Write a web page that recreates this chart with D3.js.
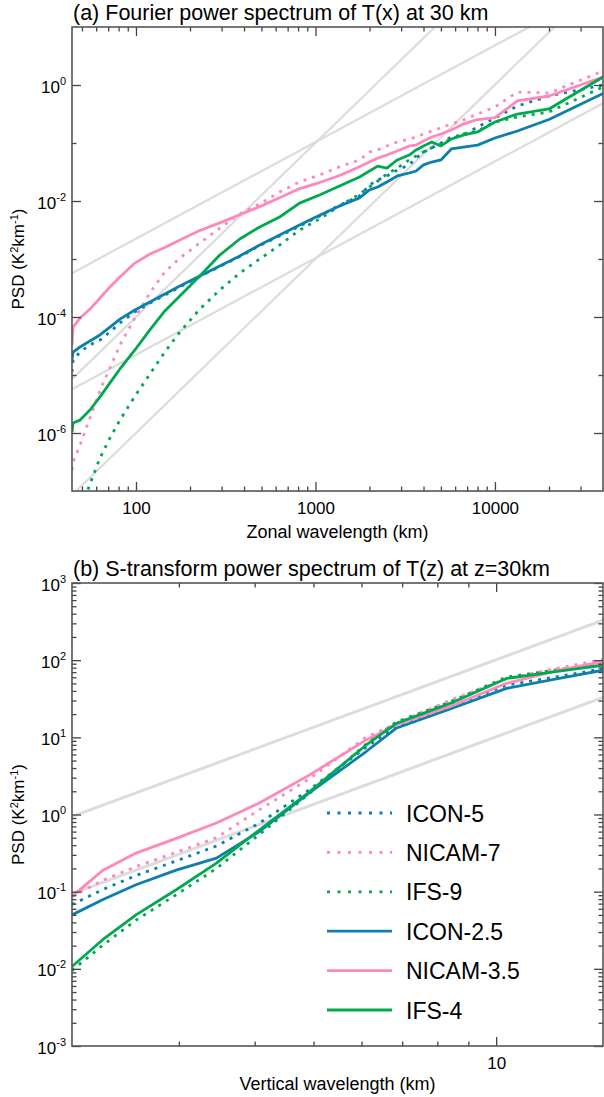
<!DOCTYPE html>
<html>
<head>
<meta charset="utf-8">
<script src="https://cdn.jsdelivr.net/npm/d3@7"></script>
<style>
  body { margin: 0; background: #fff; }
  svg { display: block; font-family: "Liberation Sans", Arial, Helvetica, sans-serif; }
</style>
</head>
<body>
<svg id="chart" width="604" height="1097"></svg>
<script>
// ---- panel (a): Fourier spectrum, zonal wavelength (km) ----
var a_wl = [44, 44.6, 48.8, 55.4, 63, 71.6, 81.4, 98.6, 119.5, 144.8, 175.5, 226.7, 292.9, 378.5,
  488.9, 631.7, 815.9, 1054, 1362, 1760, 2000, 2222, 2500, 2857, 3333, 3636, 4000, 4444, 5000,
  5714, 6667, 8000, 10000, 13333, 20000, 40000];
var a_icon5 = [1.13e-5, 1.82e-5, 2.49e-5, 3.3e-5, 4.0e-5, 5.5e-5, 7.9e-5, 1.22e-4, 1.74e-4, 2.39e-4,
  3.29e-4, 5.0e-4, 7.4e-4, 1.1e-3, 1.7e-3, 2.5e-3, 3.7e-3, 5.5e-3, 8.5e-3, 1.22e-2, 1.89e-2, 2.3e-2,
  2.7e-2, 3.42e-2, 4.2e-2, 5.5e-2, 7.0e-2, 8.2e-2, 0.1, 0.127, 0.137, 0.189, 0.27, 0.434, 0.646, 1.0];
var a_nicam7 = [2.3e-7, 3.16e-7, 6.2e-7, 1.82e-6, 5.5e-6, 1.32e-5, 3.3e-5, 9.6e-5, 2.6e-4, 6.0e-4,
  1.04e-3, 1.89e-3, 3.4e-3, 6.0e-3, 8.9e-3, 1.43e-2, 2.13e-2, 2.8e-2, 3.9e-2, 5.1e-2, 7.0e-2, 7.6e-2,
  8.9e-2, 0.104, 0.117, 0.127, 0.143, 0.161, 0.182, 0.213, 0.249, 0.316, 0.418, 0.757, 0.728, 1.74];
var a_ifs9 = [2.0e-8, 2.1e-8, 4.5e-8, 1.32e-7, 3.7e-7, 8.2e-7, 1.67e-6, 4.3e-6, 1.04e-5, 2.49e-5,
  5.5e-5, 1.37e-4, 2.92e-4, 5.7e-4, 1.0e-3, 1.74e-3, 3.16e-3, 4.9e-3, 8.2e-3, 1.32e-2, 1.74e-2, 2.21e-2,
  2.92e-2, 3.7e-2, 5.1e-2, 5.97e-2, 7.0e-2, 8.2e-2, 9.6e-2, 0.117, 0.143, 0.161, 0.23, 0.281, 0.342, 0.925];
var a_icon25 = [1.82e-5, 2.49e-5, 3.04e-5, 3.86e-5, 4.9e-5, 6.7e-5, 9.2e-5, 1.32e-4, 1.82e-4, 2.49e-4,
  3.42e-4, 5.1e-4, 7.6e-4, 1.13e-3, 1.74e-3, 2.59e-3, 3.86e-3, 5.7e-3, 8.2e-3, 1.13e-2, 1.55e-2, 1.74e-2,
  2.13e-2, 2.7e-2, 3.04e-2, 3.29e-2, 4.2e-2, 4.7e-2, 5.1e-2, 7.9e-2, 8.5e-2, 9.2e-2, 0.122, 0.161, 0.254, 0.713];
var a_nicam35 = [3.3e-5, 6.7e-5, 9.6e-5, 1.37e-4, 2.13e-4, 3.29e-4, 4.9e-4, 8.5e-4, 1.22e-3, 1.58e-3,
  2.13e-3, 3.1e-3, 4.2e-3, 5.8e-3, 8.0e-3, 1.14e-2, 1.64e-2, 2.08e-2, 2.75e-2, 3.9e-2, 4.7e-2, 5.5e-2,
  6.2e-2, 7.3e-2, 8.9e-2, 9.2e-2, 0.108, 0.127, 0.143, 0.168, 0.213, 0.254, 0.275, 0.53, 0.646, 1.37];
var a_ifs4 = [1.04e-6, 1.49e-6, 1.67e-6, 2.49e-6, 4.2e-6, 7.3e-6, 1.27e-5, 2.7e-5, 6.0e-5, 1.27e-4,
  2.3e-4, 5.1e-4, 1.17e-3, 2.21e-3, 3.56e-3, 5.3e-3, 9.2e-3, 1.27e-2, 1.82e-2, 2.59e-2, 3.29e-2, 4.0e-2,
  3.7e-2, 5.1e-2, 6.2e-2, 7.6e-2, 8.9e-2, 0.104, 8.9e-2, 0.117, 0.137, 0.155, 0.23, 0.316, 0.386, 1.37];
// grey reference slopes (end points at 44 km and 40000 km)
var a_refWl = [44, 40000];
var a_ref53hi = [5.7e-4, 48.4];
var a_ref53lo = [5.7e-6, 0.484];
var a_ref3hi = [8.5e-6, 6490];
var a_ref3lo = [8.5e-8, 64.9];

var a_xMajor = [100, 1000, 10000];
var a_xMinor = [50, 60, 70, 80, 90, 200, 300, 400, 500, 600, 700, 800, 900,
  2000, 3000, 4000, 5000, 6000, 7000, 8000, 9000, 20000, 30000];
var a_yMajor = [1e-6, 1e-4, 1e-2, 1];
var a_yMinor = [1e-5, 1e-3, 1e-1];

// ---- panel (b): S-transform spectrum, vertical wavelength (km) ----
var b_wl = [2, 2.25, 2.55, 2.97, 3.46, 4.07, 4.92, 6.1, 6.84, 8.4, 10.4, 12.7, 15];
var b_icon5 = [0.068, 0.107, 0.162, 0.25, 0.39, 0.77, 2.09, 7.4, 13.8, 25.1, 47.4, 61.7, 77.6];
var b_nicam7 = [0.087, 0.141, 0.211, 0.324, 0.50, 1.15, 2.9, 10, 15.1, 30.2, 57.5, 79.4, 102];
var b_ifs9 = [0.0095, 0.0204, 0.0427, 0.0912, 0.2, 0.55, 1.86, 8.1, 15.8, 28.8, 60.3, 75.9, 89];
var b_icon25 = [0.050, 0.079, 0.123, 0.19, 0.272, 0.60, 1.9, 6.5, 13.1, 23.3, 43.1, 58, 74.1];
var b_nicam35 = [0.087, 0.19, 0.316, 0.49, 0.776, 1.41, 3.24, 9.2, 14.5, 25.1, 50.1, 74.1, 95.5];
var b_ifs4 = [0.0107, 0.024, 0.050, 0.106, 0.234, 0.63, 1.95, 7.9, 15.1, 27.5, 58, 72, 86];
var b_refWl = [2, 15];
var b_refHi = [0.94, 330];
var b_refLo = [0.094, 33];

var b_xMajor = [10];
var b_xMinor = [3, 4, 5, 6, 7, 8, 9];
var b_yMajor = [1e-3, 1e-2, 1e-1, 1, 10, 100, 1000];
var b_yMinor = [];
b_yMajor.slice(0, 6).forEach(function (d) {
  for (var k = 2; k <= 9; k++) b_yMinor.push(d * k);
});

var models = ["ICON-5", "NICAM-7", "IFS-9", "ICON-2.5", "NICAM-3.5", "IFS-4"];
var colors = { ICON: "#0b7fae", NICAM: "#ff88bb", IFS: "#00a84f" };

function zip(xs, ys) {
  return xs.map(function (v, i) { return [v, ys[i]]; });
}
function series(a, b, c, d, e, f) {
  var vals = [a, b, c, d, e, f];
  return models.map(function (m, i) {
    return { name: m, color: colors[m.split("-")[0]], dotted: i < 3, values: vals[i] };
  });
}

var svg = d3.select("#chart");
svg.append("rect").attr("width", 604).attr("height", 1097).attr("fill", "#fff");

function expLabel(sel) {
  sel.each(function (d) {
    var t = d3.select(this);
    var e = Math.round(Math.log10(d));
    t.text(null).attr("dy", null).attr("x", -6).attr("y", 7);
    t.append("tspan").text("10");
    t.append("tspan").attr("dy", -8).attr("font-size", 11).text(e);
  });
}

function drawPanel(p) {
  var x = d3.scaleLog().domain(p.xDomain).range([p.left, p.right]);
  var y = d3.scaleLog().domain(p.yDomain).range([p.bottom, p.top]);
  var line = d3.line().x(function (d) { return x(d[0]); }).y(function (d) { return y(d[1]); });
  var g = svg.append("g");

  svg.append("clipPath").attr("id", "clip-" + p.id).append("rect")
    .attr("x", p.left).attr("y", p.top)
    .attr("width", p.right - p.left).attr("height", p.bottom - p.top);
  var plot = g.append("g").attr("clip-path", "url(#clip-" + p.id + ")");

  p.refs.forEach(function (r) {
    plot.append("path").attr("d", line(zip(p.refWl, r)))
      .attr("fill", "none").attr("stroke", "#dcdcdc").attr("stroke-width", p.refWidth);
  });

  p.series.forEach(function (s) {
    plot.append("path").attr("d", line(zip(p.wl, s.values)))
      .attr("fill", "none").attr("stroke", s.color)
      .attr("stroke-width", p.lineWidth)
      .attr("stroke-linejoin", "round")
      .attr("stroke-dasharray", s.dotted ? "3,6" : null);
  });

  // ticks (inward) on all four sides
  function ticks(axis, tr, vals, size, labels) {
    var a = g.append("g").attr("transform", tr)
      .call(axis.tickValues(vals).tickSize(-size).tickPadding(11)
        .tickFormat(labels ? labels : ""));
    a.select(".domain").remove();
    a.selectAll("line").attr("stroke", "#444").attr("stroke-width", 1.3);
    a.selectAll("text").attr("font-size", 17).attr("fill", "#000")
      .attr("font-family", "Liberation Sans, Arial, sans-serif");
    return a;
  }
  var fmt = d3.format("d");
  ticks(d3.axisBottom(x), "translate(0," + p.bottom + ")", p.xMajor, 9, fmt);
  ticks(d3.axisBottom(x), "translate(0," + p.bottom + ")", p.xMinor, 4.5);
  ticks(d3.axisTop(x), "translate(0," + p.top + ")", p.xMajor, 9);
  ticks(d3.axisTop(x), "translate(0," + p.top + ")", p.xMinor, 4.5);
  var yl = ticks(d3.axisLeft(y), "translate(" + p.left + ",0)", p.yMajor, 9, fmt);
  yl.selectAll("text").call(expLabel);
  ticks(d3.axisLeft(y), "translate(" + p.left + ",0)", p.yMinor, 4.5);
  ticks(d3.axisRight(y), "translate(" + p.right + ",0)", p.yMajor, 9);
  ticks(d3.axisRight(y), "translate(" + p.right + ",0)", p.yMinor, 4.5);

  g.append("rect").attr("x", p.left).attr("y", p.top)
    .attr("width", p.right - p.left).attr("height", p.bottom - p.top)
    .attr("fill", "none").attr("stroke", "#555").attr("stroke-width", 1.6);

  g.append("text").attr("x", p.left + 1).attr("y", p.top - 7)
    .attr("font-size", 21.5).text(p.title);
  g.append("text").attr("x", (p.left + p.right) / 2).attr("y", p.bottom + p.xLabelGap)
    .attr("text-anchor", "middle").attr("font-size", 18).text(p.xLabel);

  var yt = g.append("text")
    .attr("transform", "translate(24," + (p.top + p.bottom) / 2 + ") rotate(-90)")
    .attr("text-anchor", "middle").attr("font-size", 17);
  yt.append("tspan").text("PSD (K");
  yt.append("tspan").attr("dy", -6).attr("font-size", 11).text("2");
  yt.append("tspan").attr("dy", 6).text("km");
  yt.append("tspan").attr("dy", -6).attr("font-size", 11).text("-1");
  yt.append("tspan").attr("dy", 6).text(")");

  return { x: x, y: y, g: g };
}

drawPanel({
  id: "a", left: 72, right: 603, top: 27, bottom: 491,
  xDomain: [44, 40000], yDomain: [1e-7, 10],
  wl: a_wl, series: series(a_icon5, a_nicam7, a_ifs9, a_icon25, a_nicam35, a_ifs4),
  refWl: a_refWl, refs: [a_ref53hi, a_ref53lo, a_ref3hi, a_ref3lo], refWidth: 2.2,
  lineWidth: 2.8,
  xMajor: a_xMajor, xMinor: a_xMinor, yMajor: a_yMajor, yMinor: a_yMinor,
  title: "(a) Fourier power spectrum of T(x) at 30 km",
  xLabel: "Zonal wavelength (km)", xLabelGap: 47
});

var pb = drawPanel({
  id: "b", left: 72, right: 603, top: 583, bottom: 1046,
  xDomain: [2, 15], yDomain: [1e-3, 1e3],
  wl: b_wl, series: series(b_icon5, b_nicam7, b_ifs9, b_icon25, b_nicam35, b_ifs4),
  refWl: b_refWl, refs: [b_refHi, b_refLo], refWidth: 3,
  lineWidth: 2.8,
  xMajor: b_xMajor, xMinor: b_xMinor, yMajor: b_yMajor, yMinor: b_yMinor,
  title: "(b) S-transform power spectrum of T(z) at z=30km",
  xLabel: "Vertical wavelength (km)", xLabelGap: 44
});

// legend
var legend = pb.g.append("g");
series(b_icon5, b_nicam7, b_ifs9, b_icon25, b_nicam35, b_ifs4).forEach(function (s, i) {
  var yy = 813 + i * 39.4;
  legend.append("line").attr("x1", 327).attr("x2", 392).attr("y1", yy).attr("y2", yy)
    .attr("stroke", s.color).attr("stroke-width", 2.8)
    .attr("stroke-dasharray", s.dotted ? "3,7.5" : null);
  legend.append("text").attr("x", 406).attr("y", yy + 8.5)
    .attr("font-size", 23).text(s.name);
});
</script>
</body>
</html>
